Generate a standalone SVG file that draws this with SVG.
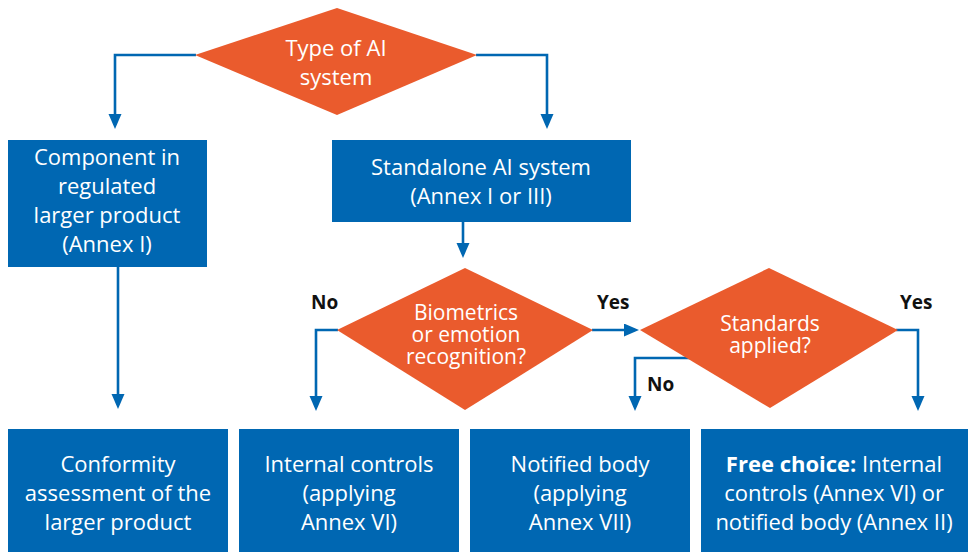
<svg xmlns="http://www.w3.org/2000/svg" width="970" height="552" viewBox="0 0 970 552">
  <style>
    .box { fill: #0067b2; }
    .dia { fill: #ea5b2d; }
    .t { font-family: "Open Sans", "Noto Sans", sans-serif; font-size: 22px; fill: #ffffff; text-anchor: middle; }
    .td { font-family: "Open Sans", "Noto Sans", sans-serif; font-size: 21px; fill: #ffffff; text-anchor: middle; }
    .lbl { font-family: "Open Sans", "Noto Sans", sans-serif; font-size: 19px; font-weight: bold; fill: #111111; }
    .b { font-weight: bold; }
    .conn { fill: none; stroke: #0067b2; stroke-width: 2.6; }
  </style>
  <defs>
    <marker id="arrow" markerUnits="userSpaceOnUse" markerWidth="16" markerHeight="14" refX="11" refY="6.5" orient="auto">
      <path d="M0,0 L15,6.5 L0,13 z" fill="#0067b2"/>
    </marker>
  </defs>
  <rect width="970" height="552" fill="#ffffff"/>

  <g id="connectors">
    <path class="conn" d="M196,55 H115 V125" marker-end="url(#arrow)"/>
    <path class="conn" d="M476,55 H547 V125" marker-end="url(#arrow)"/>
    <path class="conn" d="M118,267 V405" marker-end="url(#arrow)"/>
    <path class="conn" d="M463,222 V254" marker-end="url(#arrow)"/>
    <path class="conn" d="M338,330 H316 V407" marker-end="url(#arrow)"/>
    <path class="conn" d="M592,330 H635" marker-end="url(#arrow)"/>
    <path class="conn" d="M690,358 H635 V407" marker-end="url(#arrow)"/>
    <path class="conn" d="M896,330 H918 V407" marker-end="url(#arrow)"/>
  </g>

  <g id="type-of-ai">
    <polygon class="dia" points="337,8 477,55 337,115 195,55"/>
    <text class="t" x="336" y="56">Type of AI</text>
    <text class="t" x="336" y="85">system</text>
  </g>

  <g id="component">
    <rect class="box" x="8" y="140" width="199" height="127"/>
    <text class="t" x="107" y="165">Component in</text>
    <text class="t" x="107" y="194">regulated</text>
    <text class="t" x="107" y="223">larger product</text>
    <text class="t" x="107" y="252">(Annex I)</text>
  </g>

  <g id="standalone">
    <rect class="box" x="332" y="140" width="299" height="82"/>
    <text class="t" x="481" y="175">Standalone AI system</text>
    <text class="t" x="481" y="204">(Annex I or III)</text>
  </g>

  <g id="biometrics">
    <polygon class="dia" points="465,268 593,330 465,410 337,330"/>
    <text class="td" x="466" y="320">Biometrics</text>
    <text class="td" x="466" y="342">or emotion</text>
    <text class="td" x="466" y="364">recognition?</text>
  </g>

  <g id="standards">
    <polygon class="dia" points="769,268 898,330 770,408 640,330"/>
    <text class="td" x="770" y="331">Standards</text>
    <text class="td" x="770" y="353">applied?</text>
  </g>

  <g id="labels">
    <text class="lbl" x="311" y="309">No</text>
    <text class="lbl" x="597" y="309">Yes</text>
    <text class="lbl" x="647" y="391">No</text>
    <text class="lbl" x="900" y="309">Yes</text>
  </g>

  <g id="conformity">
    <rect class="box" x="8" y="429" width="220" height="123"/>
    <text class="t" x="118" y="472">Conformity</text>
    <text class="t" x="118" y="501">assessment of the</text>
    <text class="t" x="118" y="530">larger product</text>
  </g>

  <g id="internal-controls">
    <rect class="box" x="239" y="429" width="220" height="123"/>
    <text class="t" x="349" y="472">Internal controls</text>
    <text class="t" x="349" y="501">(applying</text>
    <text class="t" x="349" y="530">Annex VI)</text>
  </g>

  <g id="notified-body">
    <rect class="box" x="470" y="429" width="220" height="123"/>
    <text class="t" x="580" y="472">Notified body</text>
    <text class="t" x="580" y="501">(applying</text>
    <text class="t" x="580" y="530">Annex VII)</text>
  </g>

  <g id="free-choice">
    <rect class="box" x="701" y="429" width="267" height="123"/>
    <text class="t" x="834" y="472"><tspan class="b">Free choice:</tspan> Internal</text>
    <text class="t" x="834" y="501">controls (Annex VI) or</text>
    <text class="t" x="834" y="530">notified body (Annex II)</text>
  </g>
</svg>
